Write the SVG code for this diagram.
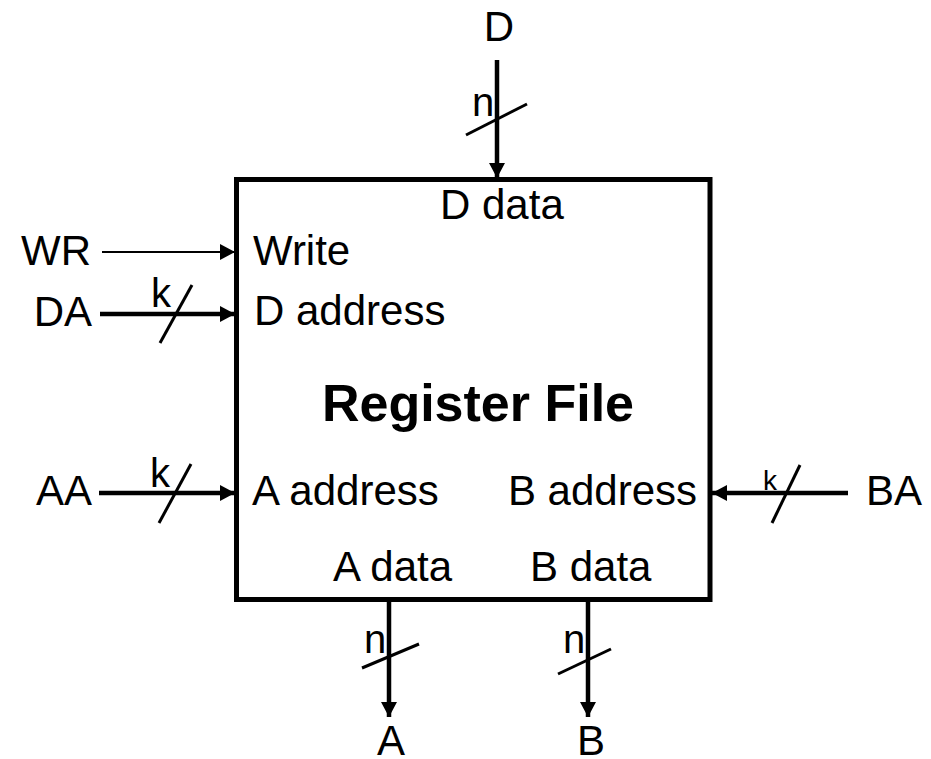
<svg xmlns="http://www.w3.org/2000/svg" width="931" height="759" viewBox="0 0 931 759">
  <style>
    text { font-family: "Liberation Sans", Arial, sans-serif; font-size: 42px; fill: #000; }
    .title { font-weight: bold; font-size: 52px; }
    .bw { font-size: 40px; }
    .bw-small { font-size: 28px; }
    .wire { stroke: #000; stroke-width: 4.5; fill: none; }
    .thin { stroke: #000; stroke-width: 2.2; fill: none; }
    .slash { stroke: #000; stroke-width: 3; fill: none; }
    .box { stroke: #000; stroke-width: 5; fill: #fff; }
  </style>
  <defs>
    <marker id="head" markerUnits="userSpaceOnUse" markerWidth="16" markerHeight="16" refX="15" refY="8" orient="auto">
      <path d="M0,0 L15,8 L0,16 Z" fill="#000"/>
    </marker>
  </defs>

  <!-- register file block -->
  <g id="regfile">
    <rect class="box" x="236.5" y="179.5" width="473.5" height="420"/>
    <text x="440" y="219">D data</text>
    <text x="253" y="265">Write</text>
    <text x="254" y="325">D address</text>
    <text class="title" x="478" y="421" text-anchor="middle">Register File</text>
    <text x="252" y="505">A address</text>
    <text x="697" y="505" text-anchor="end">B address</text>
    <text x="333" y="581">A data</text>
    <text x="530" y="581">B data</text>
  </g>

  <!-- external ports -->
  <g id="port-D"><text x="499" y="41" text-anchor="middle">D</text></g>
  <g id="port-WR"><text x="91" y="265" text-anchor="end">WR</text></g>
  <g id="port-DA"><text x="92" y="326" text-anchor="end">DA</text></g>
  <g id="port-AA"><text x="92" y="505" text-anchor="end">AA</text></g>
  <g id="port-BA"><text x="866" y="505">BA</text></g>
  <g id="port-A"><text x="391" y="755" text-anchor="middle">A</text></g>
  <g id="port-B"><text x="591" y="755" text-anchor="middle">B</text></g>

  <!-- connectors with bus-width marks -->
  <g id="connectors">
    <line class="wire" x1="497" y1="60" x2="497" y2="178" marker-end="url(#head)"/>
    <line class="slash" x1="466" y1="135" x2="527" y2="104"/>
    <text class="bw" x="472" y="116">n</text>

    <line class="thin" x1="102" y1="252" x2="235" y2="252" marker-end="url(#head)"/>

    <line class="wire" x1="100" y1="314" x2="235" y2="314" marker-end="url(#head)"/>
    <line class="slash" x1="160" y1="343" x2="192" y2="285"/>
    <text class="bw" x="151" y="307">k</text>

    <line class="wire" x1="99" y1="493" x2="235" y2="493" marker-end="url(#head)"/>
    <line class="slash" x1="159" y1="523" x2="191" y2="464"/>
    <text class="bw" x="150" y="487">k</text>

    <line class="wire" x1="848" y1="493" x2="712" y2="493" marker-end="url(#head)"/>
    <line class="slash" x1="772" y1="523" x2="800" y2="465"/>
    <text class="bw-small" x="763" y="490">k</text>

    <line class="wire" x1="389" y1="600" x2="389" y2="717" marker-end="url(#head)"/>
    <line class="slash" x1="362" y1="668" x2="419" y2="644"/>
    <text class="bw" x="364" y="653">n</text>

    <line class="wire" x1="588" y1="600" x2="588" y2="717" marker-end="url(#head)"/>
    <line class="slash" x1="558" y1="674" x2="611" y2="649"/>
    <text class="bw" x="563" y="653">n</text>
  </g>
</svg>
